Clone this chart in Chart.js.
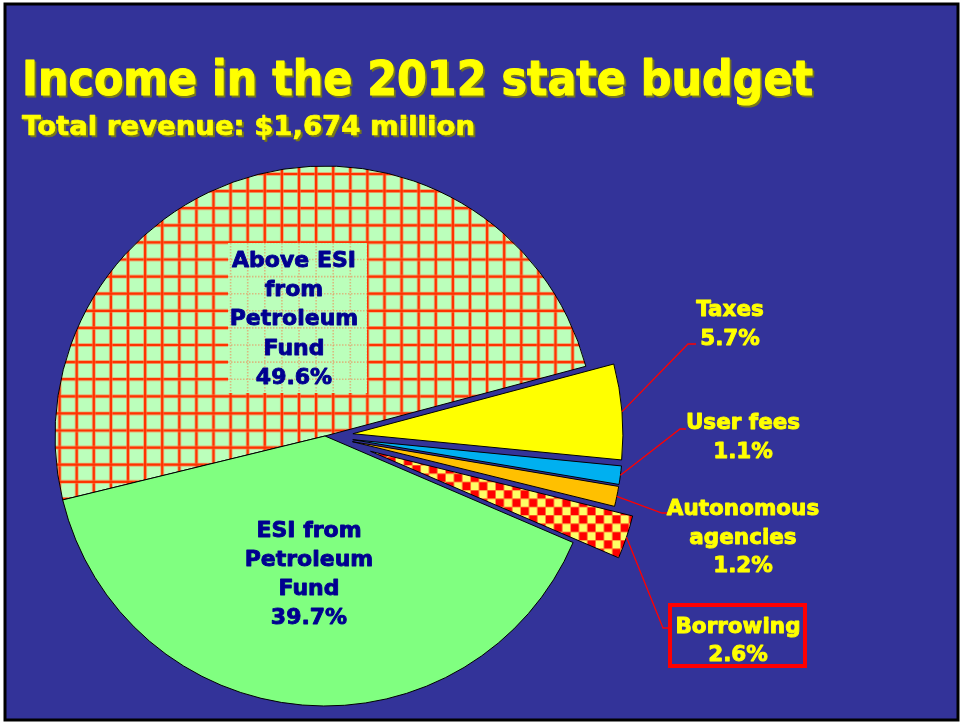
<!DOCTYPE html>
<html>
<head>
<meta charset="utf-8">
<script src="https://cdn.jsdelivr.net/npm/chart.js@4"></script>
<style>
  html, body { margin: 0; padding: 0; background: #ffffff; }
  #chart { display: block; }
</style>
</head>
<body>
<canvas id="chart" width="960" height="722"></canvas>
<script>
// データ（凡例順 = 描画順）
const titleText = "Income in the 2012 state budget";
const subtitleText = "Total revenue: $1,674 million";
const categories = ["Above ESI from Petroleum Fund", "Taxes", "User fees", "Autonomous agencies", "Borrowing", "ESI from Petroleum Fund"];
const shares = [49.6, 5.7, 1.1, 1.2, 2.6, 39.7];
const labelLines = [["Above ESI", "from", "Petroleum", "Fund"], ["Taxes"], ["User fees"], ["Autonomous", "agencies"], ["Borrowing"], ["ESI from", "Petroleum", "Fund"]];

// 見た目の設定
const BG = "#333399";
const explodePx = [0, 28, 28, 28, 48, 0];
// ラベル位置 [中心x, 1行目ベースライン, 行間]
const labelPos = [[294, 267, 29.2], [730, 316, 28.5], [743, 429, 29], [743, 515, 28.5], [738, 633, 28], [309, 537, 29]];
// 引き出し線 [折れ点x, 折れ点y, 終点x]
const leaders = [null, [688, 344, 696], [680, 429, 686], [662, 513, 667], [663, 628, 668], null];

const canvas = document.getElementById("chart");
const ctx = canvas.getContext("2d");

// 格子模様（Above ESI）
function makeGrid(faint) {
  const step = 17.1, n = 10, size = Math.round(step * n);
  const c = document.createElement("canvas");
  c.width = size; c.height = size;
  const g = c.getContext("2d");
  if (!faint) {
    g.fillStyle = "#bbffbb";
    g.fillRect(0, 0, size, size);
  }
  for (let i = 0; i < n; i++) {
    const x = 8.3 + i * step, y = 3 + i * step;
    if (faint) {
      g.strokeStyle = "rgba(240,130,80,0.55)";
      g.lineWidth = 1.6;
      g.setLineDash([1.5, 1.5]);
    } else {
      g.strokeStyle = "rgba(255,120,70,0.55)";
      g.lineWidth = 4;
      g.beginPath(); g.moveTo(x, 0); g.lineTo(x, size); g.moveTo(0, y); g.lineTo(size, y); g.stroke();
      g.strokeStyle = "#ff3300";
      g.lineWidth = 2.2;
    }
    g.beginPath(); g.moveTo(x, 0); g.lineTo(x, size); g.moveTo(0, y); g.lineTo(size, y); g.stroke();
  }
  return ctx.createPattern(c, "repeat");
}

// 市松模様（Borrowing）
function makeChecker() {
  const sq = 8.35, n = 6, size = Math.round(sq * n);
  const c = document.createElement("canvas");
  c.width = size; c.height = size;
  const g = c.getContext("2d");
  g.fillStyle = "#ffff66";
  g.fillRect(0, 0, size, size);
  g.fillStyle = "#ff0000";
  for (let r = 0; r < n; r++) {
    for (let k = 0; k < n; k++) {
      if ((r + k) % 2 === 0) g.fillRect(k * sq, r * sq, sq, sq);
    }
  }
  return ctx.createPattern(c, "repeat");
}

const gridPattern = makeGrid(false);
const faintGrid = makeGrid(true);
const colors = [gridPattern, "#ffff00", "#00b0f0", "#ffc000", makeChecker(), "#80ff80"];

// 太めの文字（塗り＋同色の細い縁取り）
function boldText(c, text, x, y, color, weight) {
  c.fillStyle = color;
  c.strokeStyle = color;
  c.lineWidth = weight;
  c.lineJoin = "round";
  c.strokeText(text, x, y);
  c.fillText(text, x, y);
}

// 背景と枠
const backgroundPlugin = {
  id: "slideBg",
  beforeDraw(chart) {
    const c = chart.ctx;
    c.save();
    c.fillStyle = "#ffffff";
    c.fillRect(0, 0, 960, 722);
    c.fillStyle = BG;
    c.fillRect(5, 4, 953, 716);
    c.strokeStyle = "#000000";
    c.lineWidth = 3;
    c.strokeRect(5, 4, 953, 716);
    // タイトル
    drawTitle(c, titleText, "bold 48px 'DejaVu Sans'", 22, 95, 791, 1.1);
    drawTitle(c, subtitleText, "bold 27px 'DejaVu Sans'", 22, 135, 453, 0.7);
    c.restore();
  }
};

function drawTitle(c, text, font, x, y, width, weight) {
  c.save();
  c.font = font;
  const w = c.measureText(text).width;
  c.translate(x, y);
  c.scale(width / w, 1);
  boldText(c, text, 2, 2, "#77771a", weight);
  boldText(c, text, 0, 0, "#ffff00", weight);
  c.restore();
}

// 切り出した扇形をずらして描く
const explodePlugin = {
  id: "explode",
  afterDatasetUpdate(chart, args) {
    chart.getDatasetMeta(args.index).data.forEach((arc, i) => {
      const d = explodePx[i];
      if (!d || arc._exploded) return;
      arc._exploded = true;
      const baseDraw = arc.draw;
      arc.draw = function (c) {
        const mid = (this.startAngle + this.endAngle) / 2;
        c.save();
        c.translate(Math.cos(mid) * d, Math.sin(mid) * d);
        baseDraw.call(this, c);
        c.restore();
      };
    });
  }
};

// ラベルと引き出し線
const labelPlugin = {
  id: "labels",
  afterDatasetsDraw(chart) {
    const c = chart.ctx;
    const arcs = chart.getDatasetMeta(0).data;
    c.save();
    // 引き出し線
    c.strokeStyle = "#ff0000";
    c.lineWidth = 1.3;
    arcs.forEach((arc, i) => {
      const l = leaders[i];
      if (!l) return;
      const mid = (arc.startAngle + arc.endAngle) / 2;
      const r = arc.outerRadius + explodePx[i];
      c.beginPath();
      c.moveTo(arc.x + Math.cos(mid) * r, arc.y + Math.sin(mid) * r);
      c.lineTo(l[0], l[1]);
      c.lineTo(l[2], l[1]);
      c.stroke();
    });
    // Above ESI のラベル背景
    c.fillStyle = "#bbffbb";
    c.fillRect(228, 243, 139, 150);
    c.fillStyle = faintGrid;
    c.fillRect(228, 243, 139, 150);
    // Borrowing の赤枠
    c.strokeStyle = "#ff0000";
    c.lineWidth = 4;
    c.strokeRect(670, 605, 135, 61);

    c.textAlign = "center";
    c.textBaseline = "alphabetic";
    labelLines.forEach((lines, i) => {
      const inside = explodePx[i] === 0;
      const [cx, y0, lh] = labelPos[i];
      c.font = inside ? "bold 22px 'DejaVu Sans'" : "bold 21.5px 'DejaVu Sans'";
      const all = lines.concat([shares[i].toFixed(1) + "%"]);
      all.forEach((t, k) => boldText(c, t, cx, y0 + k * lh, inside ? "#000090" : "#ffff00", 0.9));
    });
    c.restore();
  }
};

new Chart(canvas, {
  type: "pie",
  data: {
    labels: categories,
    datasets: [{
      data: shares,
      backgroundColor: colors,
      borderColor: "#000000",
      borderWidth: 1,
      radius: 270
    }]
  },
  options: {
    responsive: false,
    devicePixelRatio: 1,
    animation: false,
    rotation: 256.3,
    layout: { padding: { left: 0, right: 310, top: 150, bottom: 0 } },
    plugins: { legend: { display: false }, tooltip: { enabled: false }, title: { display: false } }
  },
  plugins: [backgroundPlugin, explodePlugin, labelPlugin]
});
</script>
</body>
</html>
